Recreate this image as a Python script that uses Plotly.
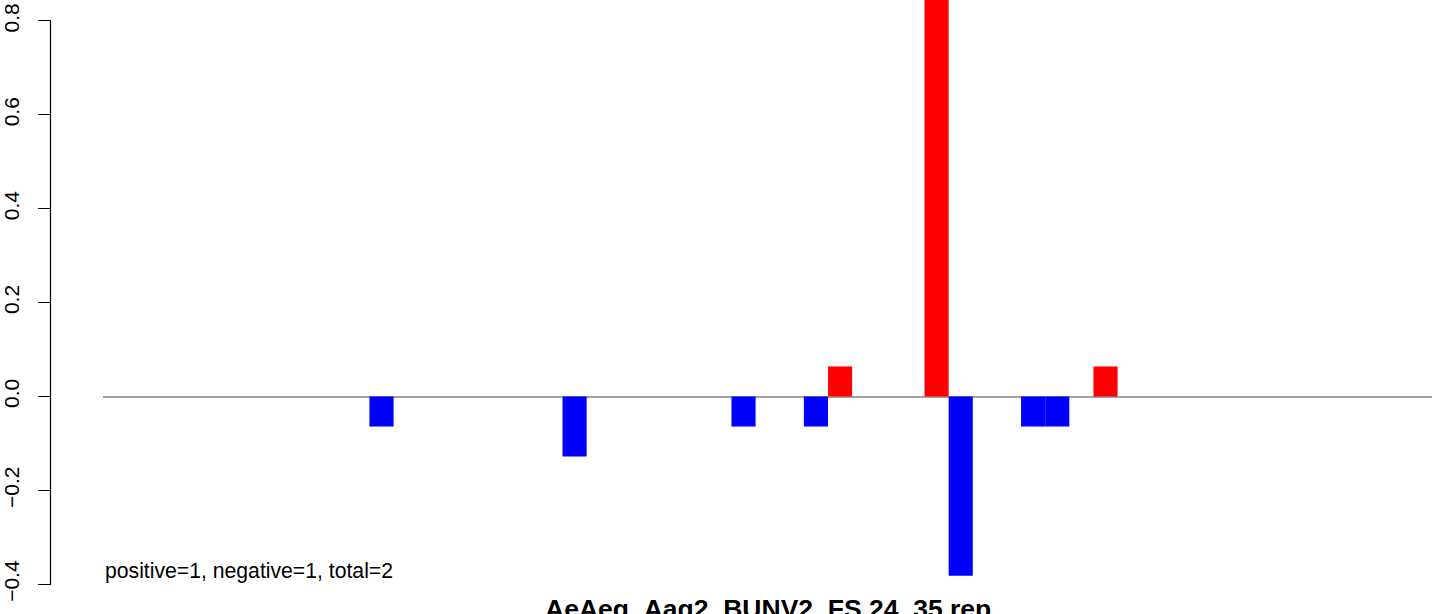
import plotly.graph_objects as go

# ---- data ----
n_positions = 51
positive_x = [29, 33, 40]
positive_y = [0.064, 0.90, 0.064]
negative_x = [10, 18, 25, 28, 34, 37, 38]
negative_y = [-0.064, -0.128, -0.064, -0.064, -0.382, -0.064, -0.064]
y_tick_vals = [-0.4, -0.2, 0.0, 0.2, 0.4, 0.6, 0.8]
y_tick_text = ["\u22120.4", "\u22120.2", "0.0", "0.2", "0.4", "0.6", "0.8"]
title_text = "AeAeg_Aag2_BUNV2_FS 24_35 rep"
summary_text = "positive=1, negative=1, total=2"

# ---- layout geometry (pixels) ----
W, H = 1444, 614
x_left_px, x_right_px = 103, 1432.3
axis_x_px = 50.5
zero_px = 396.5
px_per_unit = 469.4

pad = 0.04 * n_positions
x_range = [0.5 - pad, n_positions + 0.5 + pad]
y_range = [(zero_px - H) / px_per_unit, zero_px / px_per_unit]

FONT = "Liberation Sans, Arial, Helvetica, sans-serif"

fig = go.Figure()
fig.add_trace(go.Bar(x=positive_x, y=positive_y, width=1,
                     marker=dict(color="#FF0000", line=dict(width=0)),
                     showlegend=False))
fig.add_trace(go.Bar(x=negative_x, y=negative_y, width=1,
                     marker=dict(color="#0000FF", line=dict(width=0)),
                     showlegend=False))

fig.update_layout(
    width=W, height=H,
    margin=dict(l=0, r=0, t=0, b=0, autoexpand=False),
    paper_bgcolor="white", plot_bgcolor="white",
    barmode="overlay",
    showlegend=False,
    font=dict(family=FONT, color="black", size=21),
    xaxis=dict(domain=[x_left_px / W, x_right_px / W], range=x_range,
               showgrid=False, zeroline=False, showticklabels=False,
               showline=False, ticks="", anchor="free", position=0),
    yaxis=dict(domain=[0, 1], range=y_range,
               anchor="free", position=axis_x_px / W,
               showgrid=False,
               zeroline=True, zerolinecolor="#A0A0A0", zerolinewidth=1.5,
               showline=False,
               ticks="outside", ticklen=13, tickwidth=1.2, tickcolor="black",
               tickvals=y_tick_vals, ticktext=y_tick_text,
               tickangle=-90, tickfont=dict(family=FONT, size=21, color="black"),
               ticklabelstandoff=10),
    shapes=[
        # R-style axis line spanning only the labelled tick range
        dict(type="line", xref="paper", yref="y",
             x0=axis_x_px / W, x1=axis_x_px / W,
             y0=y_tick_vals[0], y1=y_tick_vals[-1],
             line=dict(color="black", width=1.2), layer="above"),
    ],
    annotations=[
        dict(text=summary_text, xref="paper", yref="paper",
             x=x_left_px / W, y=(H - 571) / H, xanchor="left", yanchor="middle",
             showarrow=False, font=dict(family=FONT, size=21.2, color="black")),
        dict(text="<b>" + title_text + "</b>", xref="paper", yref="paper",
             x=(x_left_px + x_right_px) / 2 / W, y=(H - 609) / H,
             xanchor="center", yanchor="middle",
             showarrow=False, font=dict(family=FONT, size=26.5, color="black")),
    ],
)

fig.write_html(
    "out.html",
    config={"displayModeBar": False},
    post_script="document.body.style.margin='0';document.body.style.padding='0';",
)
